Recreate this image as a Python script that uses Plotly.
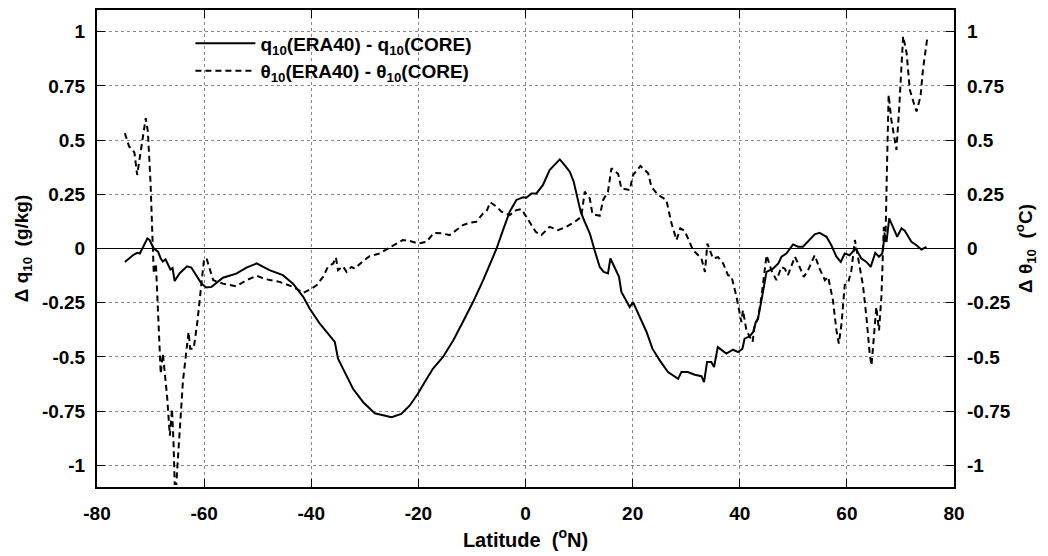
import plotly.graph_objects as go

# q10(ERA40) - q10(CORE), g/kg
q_lat = [-74.8, -73.3, -72.5, -72.0, -70.6, -70.2, -69.4, -68.6, -68.1, -67.7, -67.2, -66.7,
         -66.3, -65.9, -65.5, -64.6, -63.2, -62.4, -60.5, -59.6, -58.6, -56.5, -54.0, -52.1,
         -50.2, -47.8, -45.3, -43.4, -41.5, -40.3, -38.4, -35.6, -35.0, -33.75, -32.2, -30.3,
         -28.15, -25.0, -23.2, -21.6, -20.1, -18.8, -17.3, -15.4, -13.5, -11.7, -9.8, -7.9,
         -6.4, -5.4, -4.2, -2.95, -1.7, -0.46, 0.17, 1.1, 2.04, 3.27, 4.5, 6.4, 7.3, 8.26,
         9.0, 9.6, 10.3, 11.06, 12.0, 12.9, 13.86, 14.6, 15.4, 15.85, 16.66, 17.46, 17.9,
         18.84, 19.46, 20.08, 21.3, 22.6, 23.7, 25.06, 26.6, 28.5, 29.1, 30.3, 31.6, 32.85,
         33.33, 33.9, 34.7, 35.2, 35.9, 37.5, 38.75, 39.7, 40.5, 40.9, 41.86, 42.5, 43.0,
         43.4, 44.05, 45.0, 46.2, 47.2, 47.8, 48.7, 49.95, 50.9, 51.8, 53.07, 54.0, 54.9,
         56.2, 57.1, 58.05, 58.86, 59.6, 60.5, 61.65, 62.7, 63.65, 64.45, 65.3, 66.0, 66.6,
         67.07, 67.4, 67.9, 68.6, 69.4, 70.2, 70.8, 72.05, 73.0, 73.9, 74.85]
q_diff = [-0.062, -0.031, -0.02, -0.023, 0.046, 0.039, 0.0, -0.015, -0.046, -0.06, -0.05, -0.077,
          -0.097, -0.09, -0.15, -0.115, -0.082, -0.088, -0.162, -0.18, -0.177, -0.135, -0.116, -0.088,
          -0.069, -0.1, -0.123, -0.162, -0.223, -0.277, -0.347, -0.431, -0.508, -0.57, -0.647, -0.709,
          -0.76, -0.778, -0.763, -0.724, -0.67, -0.616, -0.555, -0.5, -0.424, -0.339, -0.247, -0.146,
          -0.062, 0.0, 0.085, 0.17, 0.224, 0.236, 0.234, 0.254, 0.254, 0.293, 0.362, 0.411, 0.385, 0.354,
          0.308, 0.239, 0.17, 0.123, 0.07, -0.008, -0.085, -0.108, -0.115, -0.046, -0.085, -0.131, -0.2,
          -0.239, -0.27, -0.247, -0.316, -0.385, -0.462, -0.516, -0.57, -0.601, -0.57, -0.57, -0.582, -0.589,
          -0.616, -0.524, -0.524, -0.547, -0.455, -0.485, -0.467, -0.478, -0.462, -0.416, -0.405, -0.385, -0.339,
          -0.324, -0.239, -0.108, -0.093, -0.069, -0.038, -0.023, 0.019, 0.008, 0.008, 0.039, 0.065, 0.072,
          0.054, 0.015, -0.038, -0.062, -0.023, -0.031, 0.0, -0.046, -0.062, -0.085, -0.02, -0.038, -0.023,
          0.062, 0.03, 0.139, 0.1, 0.054, 0.093, 0.082, 0.031, 0.015, -0.005, 0.008]

# theta10(ERA40) - theta10(CORE), degC
t_lat = [-74.8, -74.0, -73.3, -73.0, -72.5, -72.0, -71.4, -70.9, -70.5, -70.0, -69.65, -69.4,
         -69.0, -68.6, -68.1, -67.7, -67.35, -66.9, -66.4, -66.0, -65.7, -65.5, -65.2, -64.6,
         -63.95, -63.3, -62.9, -62.6, -61.95, -61.3, -60.6, -60.0, -59.5, -58.3, -56.5, -54.0,
         -52.1, -50.2, -48.4, -45.9, -43.4, -41.5, -40.3, -39.0, -37.8, -36.9, -35.9, -35.4,
         -35.0, -34.1, -33.4, -32.5, -31.9, -30.3, -29.1, -27.2, -25.35, -24.1, -22.9, -21.6,
         -20.1, -18.5, -17.1, -15.7, -14.15, -12.9, -11.7, -10.4, -9.2, -7.9, -7.3, -6.55,
         -5.4, -4.5, -2.95, -1.7, -0.76, 0.17, 0.8, 1.9, 2.97, 4.5, 6.07, 7.6, 9.2, 10.4,
         11.06, 12.0, 12.5, 13.86, 14.5, 15.4, 16.04, 17.3, 17.9, 19.46, 20.08, 21.46, 22.9,
         23.5, 24.75, 26.3, 27.25, 28.2, 28.9, 29.7, 31.3, 32.85, 33.5, 33.96, 35.0, 35.95,
         36.9, 37.8, 38.45, 39.4, 40.3, 40.6, 41.25, 41.86, 42.4, 42.8, 43.4, 44.05, 45.0,
         45.9, 46.85, 47.8, 48.4, 49.0, 50.3, 50.9, 51.95, 52.75, 54.0, 54.9, 55.9, 56.5,
         57.4, 58.05, 58.5, 59.0, 59.6, 60.2, 60.85, 61.5, 62.1, 63.0, 63.65, 64.26, 64.6,
         65.0, 65.5, 66.0, 66.45, 66.9, 67.2, 67.5, 67.8, 68.3, 69.25, 69.75, 70.2, 70.5,
         71.15, 71.75, 72.4, 73.0, 73.75, 74.2, 74.97]
t_diff = [0.532, 0.47, 0.455, 0.44, 0.339, 0.416, 0.524, 0.601, 0.539, 0.3, 0.054, -0.115,
          -0.069, -0.285, -0.578, -0.485, -0.578, -0.686, -0.863, -0.74, -0.901, -1.086, -1.086, -0.855,
          -0.609, -0.47, -0.385, -0.462, -0.462, -0.347, -0.177, -0.046, -0.05, -0.146, -0.162, -0.174,
          -0.146, -0.126, -0.142, -0.154, -0.177, -0.205, -0.19, -0.17, -0.131, -0.085, -0.069, -0.041,
          -0.1, -0.082, -0.108, -0.085, -0.093, -0.057, -0.035, -0.023, 0.005, 0.023, 0.039, 0.035,
          0.023, 0.031, 0.072, 0.07, 0.062, 0.085, 0.108, 0.119, 0.123, 0.162, 0.17, 0.213,
          0.193, 0.17, 0.154, 0.177, 0.182, 0.146, 0.123, 0.077, 0.062, 0.1, 0.085, 0.1, 0.123, 0.146,
          0.262, 0.231, 0.159, 0.151, 0.224, 0.262, 0.37, 0.344, 0.277, 0.27, 0.339, 0.381, 0.347,
          0.285, 0.247, 0.224, 0.116, 0.039, 0.093, 0.082, -0.008, -0.046, -0.108, 0.023, -0.046, -0.04,
          -0.069, -0.123, -0.128, -0.223, -0.339, -0.285, -0.378, -0.408, -0.431, -0.354, -0.324, -0.223, -0.031,
          -0.1, -0.146, -0.085, -0.093, -0.123, -0.038, -0.069, -0.131, -0.1, -0.031, -0.093, -0.146, -0.131,
          -0.239, -0.378, -0.439, -0.347, -0.169, -0.162, -0.1, 0.039, -0.046, -0.169, -0.316, -0.485, -0.539,
          -0.408, -0.27, -0.378, -0.223, 0.1, 0.03, 0.393, 0.709, 0.593, 0.455, 0.64, 0.886, 0.979,
          0.902, 0.732, 0.678, 0.632, 0.701, 0.824, 0.963]

x_ticks = [-80, -60, -40, -20, 0, 20, 40, 60, 80]
x_labels = ['-80', '-60', '-40', '-20', '0', '20', '40', '60', '80']
y_ticks = [-1, -0.75, -0.5, -0.25, 0, 0.25, 0.5, 0.75, 1]
y_labels = ['-1', '-0.75', '-0.5', '-0.25', '0', '0.25', '0.5', '0.75', '1']

FONT = "Liberation Sans"

fig = go.Figure()

fig.add_trace(
    go.Scatter(
        x = q_lat,
        y = q_diff,
        mode = 'lines',
        name = '<b>q<sub>10</sub>(ERA40) - q<sub>10</sub>(CORE)</b>',
        line = dict(color='black', width=2, dash='solid')
        )
    )

fig.add_trace(
    go.Scatter(
        x = t_lat,
        y = t_diff,
        mode = 'lines',
        name = '<b>θ<sub>10</sub>(ERA40) - θ<sub>10</sub>(CORE)</b>',
        line = dict(color='black', width=2, dash='6px,4px')
        )
    )

# dummy trace so the right axis exists (same scale as the left one)
fig.add_trace(
    go.Scatter(
        x = [None],
        y = [None],
        yaxis = 'y2',
        showlegend = False,
        hoverinfo = 'skip'
        )
    )

bold = lambda labels: ['<b>%s</b>' % s for s in labels]

axis_common = dict(
    showline = True,
    linecolor = 'black',
    linewidth = 2,
    ticks = 'inside',
    ticklen = 8,
    tickwidth = 1,
    tickcolor = 'black',
    automargin = False,
    tickfont = dict(family=FONT, size=19, color='black'),
    )

fig.update_layout(
    width = 1048,
    height = 556,
    margin = dict(l=97, r=94, t=10, b=69),
    plot_bgcolor = 'white',
    paper_bgcolor = 'white',
    font = dict(family=FONT, size=19, color='black'),
    showlegend = True,
    legend = dict(
        x = 0.109,
        y = 0.97,
        xanchor = 'left',
        yanchor = 'top',
        bgcolor = 'rgba(255,255,255,0)',
        borderwidth = 0,
        font = dict(family=FONT, size=19, color='black'),
        tracegroupgap = 0,
        itemwidth = 60,
        ),
    xaxis = dict(
        range = [-80, 80],
        tickvals = x_ticks,
        ticktext = bold(x_labels),
        mirror = 'ticks',
        showgrid = True,
        gridcolor = '#888888',
        griddash = 'dot',
        gridwidth = 1,
        zeroline = False,
        ticklabelstandoff = 8,
        title = dict(text='<b>Latitude  (<sup>o</sup>N)</b>',
                     font=dict(family=FONT, size=20, color='black'),
                     standoff = 10),
        **axis_common
        ),
    yaxis = dict(
        range = [-1.1, 1.1],
        tickvals = y_ticks,
        ticktext = bold(y_labels),
        mirror = 'ticks',
        showgrid = True,
        gridcolor = '#888888',
        griddash = 'dot',
        gridwidth = 1,
        zeroline = True,
        zerolinecolor = 'black',
        zerolinewidth = 1,
        ticklabelstandoff = 6,
        title = dict(text='<b>Δ q<sub>10</sub>  (g/kg)</b>',
                     font=dict(family=FONT, size=19, color='black'),
                     standoff = 8),
        **axis_common
        ),
    yaxis2 = dict(
        range = [-1.1, 1.1],
        overlaying = 'y',
        side = 'right',
        tickvals = y_ticks,
        ticktext = bold(y_labels),
        showgrid = False,
        zeroline = False,
        showline = False,
        ticks = '',
        automargin = False,
        ticklabelstandoff = 12,
        tickfont = dict(family=FONT, size=19, color='black'),
        title = dict(text='<b>Δ θ<sub>10</sub>  (<sup>o</sup>C)</b>',
                     font=dict(family=FONT, size=19, color='black'),
                     standoff = 8),
        ),
    )

# the page body has an 8px default margin; drop it so the figure fills the window
fig.write_html("out.html",
               config = {'displayModeBar': False},
               post_script = "document.body.style.margin = '0';")
